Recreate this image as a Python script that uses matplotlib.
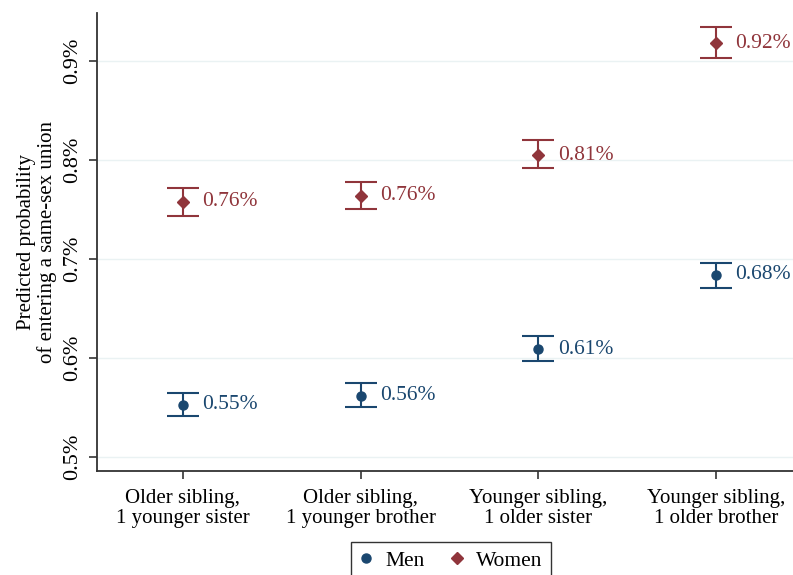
import matplotlib
matplotlib.use("Agg")
import matplotlib.pyplot as plt
from matplotlib.lines import Line2D

plt.rcParams['font.family'] = ['Liberation Serif', 'DejaVu Serif']

categories = ["Older sibling,\n1 younger sister", "Older sibling,\n1 younger brother",
              "Younger sibling,\n1 older sister", "Younger sibling,\n1 older brother"]
men = [0.553, 0.562, 0.609, 0.684]
men_lo = [0.541, 0.551, 0.597, 0.671]
men_hi = [0.565, 0.575, 0.622, 0.696]
women = [0.758, 0.764, 0.805, 0.918]
women_lo = [0.743, 0.751, 0.792, 0.903]
women_hi = [0.772, 0.778, 0.820, 0.934]
yticks = [0.5, 0.6, 0.7, 0.8, 0.9]

navy = '#1a476f'
maroon = '#90353b'

fig = plt.figure(figsize=(7.93, 5.75), dpi=100)
ax = fig.add_axes([0.1223, 0.1809, 0.8777, 0.7965])

x = [1, 2, 3, 4]
for vals, lo, hi, col, mk, ms in [(men, men_lo, men_hi, navy, 'o', 6.5),
                                  (women, women_lo, women_hi, maroon, 'D', 6)]:
    err = [[v - l for v, l in zip(vals, lo)], [h - v for v, h in zip(vals, hi)]]
    ax.errorbar(x, vals, yerr=err, fmt=mk, color=col, ms=ms, elinewidth=1.5,
                capsize=11.5, capthick=1.5, zorder=3)
    for xi, v in zip(x, vals):
        ax.annotate(f"{v:.2f}%", (xi, v), xytext=(14, 0), textcoords='offset points',
                    ha='left', va='center', color=col, fontsize=15.5)

ax.set_xlim(0.516, 4.433)
ax.set_ylim(0.4859, 0.9485)
ax.set_yticks(yticks)
ax.set_yticklabels([f"{t:.1f}%" for t in yticks], rotation=90, va='center', fontsize=16)
ax.set_xticks(x)
ax.set_xticklabels(categories, fontsize=15, linespacing=1.1)
ax.tick_params(axis='both', length=6, width=1.2, color='#333333')
ax.tick_params(axis='x', pad=7)
ax.tick_params(axis='y', pad=5)
ax.grid(axis='y', color='#eaf2f3', linewidth=1)
ax.set_axisbelow(True)
ax.set_ylabel("Predicted probability\nof entering a same-sex union", fontsize=15,
              linespacing=1.1, labelpad=4)
for s in ['top', 'right']:
    ax.spines[s].set_visible(False)
for s in ['left', 'bottom']:
    ax.spines[s].set_linewidth(1.3)
    ax.spines[s].set_color('#333333')

handles = [Line2D([], [], marker='o', color=navy, ls='none', ms=6.5),
           Line2D([], [], marker='D', color=maroon, ls='none', ms=6)]
leg = fig.legend(handles, ["Men", "Women"], loc='upper center', ncol=2,
                 bbox_to_anchor=(0.569, 0.0574), borderaxespad=0, fontsize=15.5,
                 frameon=True, fancybox=False, edgecolor='black', handlelength=0.6,
                 handletextpad=0.6, columnspacing=1.2, borderpad=0.4)
leg.get_frame().set_linewidth(1.0)

fig.savefig("out.png", dpi=100)
